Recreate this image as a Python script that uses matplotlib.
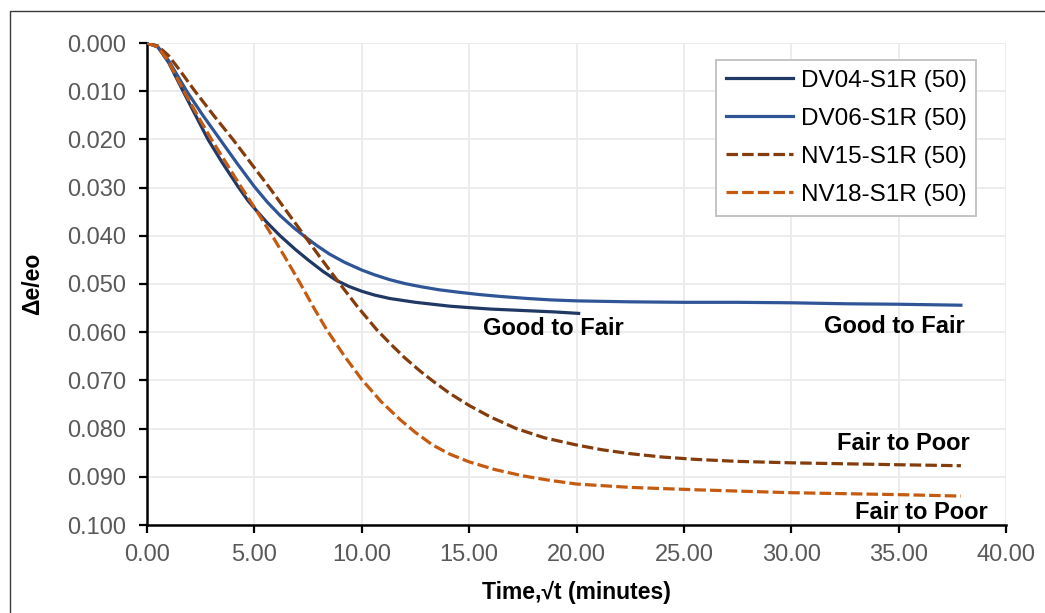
import matplotlib
matplotlib.use("Agg")
import matplotlib.pyplot as plt
from matplotlib.patches import Rectangle
from matplotlib.ticker import FormatStrFormatter, MultipleLocator

plt.rcParams['font.family'] = ['Liberation Sans', 'DejaVu Sans']

# ---------------- data ----------------
dv04_x = [0, 0.5, 1.0, 1.68, 2.84, 3.5, 4.24, 4.7, 5.1, 5.6, 6.2, 6.9, 7.5, 8.2, 8.8, 9.4,
          10.0, 10.6, 11.3, 12.5, 13.3, 14.1, 15.0, 16.0, 17.0, 18.0, 19.0, 20.1]
dv04_y = [0, 0.0008, 0.0040, 0.0100, 0.0200, 0.0248, 0.0298, 0.0327, 0.0348, 0.0373, 0.0400,
          0.0428, 0.0450, 0.0474, 0.0492, 0.0505, 0.0515, 0.0523, 0.0530, 0.0538, 0.0542,
          0.0546, 0.0549, 0.0552, 0.0554, 0.0556, 0.0558, 0.0561]

dv06_x = [0, 0.5, 1.0, 1.85, 2.6, 3.4, 4.2, 5.0, 5.6, 6.2, 6.8, 7.3, 7.9, 8.5, 9.2, 10.0,
          10.6, 11.3, 12.0, 12.8, 13.6, 14.5, 15.5, 16.5, 17.7, 18.8, 20.0, 22.5, 25.0,
          27.5, 30.0, 32.5, 35.0, 37.9]
dv06_y = [0, 0.0008, 0.0036, 0.0100, 0.0150, 0.0200, 0.0250, 0.0298, 0.0330, 0.0358, 0.0382,
          0.0400, 0.0420, 0.0438, 0.0455, 0.0471, 0.0481, 0.0491, 0.0499, 0.0506, 0.0512,
          0.0517, 0.0522, 0.0526, 0.0530, 0.0533, 0.0535, 0.0537, 0.0538, 0.0538, 0.0539,
          0.0541, 0.0542, 0.0544]

nv15_x = [0, 0.5, 1.0, 1.5, 2.2, 3.1, 4.0, 4.85, 5.7, 6.5, 7.3, 8.1, 8.9, 9.8, 10.7, 11.4,
          12.0, 12.7, 13.3, 14.1, 15.0, 16.0, 17.2, 18.5, 20.0, 21.2, 22.5, 24.0, 25.6,
          27.5, 30.0, 32.5, 35.0, 37.9]
nv15_y = [0, 0.0006, 0.0026, 0.0055, 0.0098, 0.0150, 0.0200, 0.0250, 0.0300, 0.0349, 0.0398,
          0.0447, 0.0495, 0.0547, 0.0595, 0.0627, 0.0653, 0.0680, 0.0701, 0.0727, 0.0752,
          0.0776, 0.0800, 0.0819, 0.0834, 0.0844, 0.0852, 0.0859, 0.0864, 0.0868, 0.0871,
          0.0873, 0.0875, 0.0877]

nv18_x = [0, 0.5, 1.0, 1.72, 2.35, 3.0, 3.7, 4.4, 5.1, 5.9, 6.5, 7.15, 7.75, 8.37, 9.2, 10.0,
          10.9, 11.8, 12.5, 13.3, 14.1, 15.0, 16.2, 17.5, 18.7, 20.0, 22.5, 25.6, 30.0,
          35.0, 37.9]
nv18_y = [0, 0.0008, 0.0038, 0.0100, 0.0150, 0.0200, 0.0250, 0.0300, 0.0348, 0.0405, 0.0450,
          0.0500, 0.0548, 0.0595, 0.0650, 0.0698, 0.0744, 0.0782, 0.0808, 0.0834, 0.0853,
          0.0869, 0.0885, 0.0898, 0.0907, 0.0915, 0.0922, 0.0927, 0.0933, 0.0937, 0.0940]

labels = ['DV04-S1R (50)', 'DV06-S1R (50)', 'NV15-S1R (50)', 'NV18-S1R (50)']
colors = ['#203864', '#2F5597', '#843C0C', '#C55A11']

notes = ['Good to Fair', 'Good to Fair', 'Fair to Poor', 'Fair to Poor']
note_x = [18.9, 34.8, 35.2, 36.05]
note_y = [0.0593, 0.0589, 0.0830, 0.0975]

# ---------------- figure ----------------
fig = plt.figure(figsize=(10.45, 6.13), dpi=100)
ax = fig.add_axes([147 / 1045, 1 - 525 / 613, 859 / 1045, 482 / 613])

# thin outer border of the chart area
fig.patches.append(Rectangle((10 / 1045, -0.1), 1.2, 1.1 - 11 / 613, transform=fig.transFigure,
                             fill=False, edgecolor='#3a3a3a', lw=1.0, clip_on=False))

lw = 2.3
dash = (0, (3.6, 1.3))
ax.plot(dv04_x, dv04_y, color=colors[0], lw=lw, label=labels[0], zorder=3)
ax.plot(dv06_x, dv06_y, color=colors[1], lw=lw, label=labels[1], zorder=3)
ax.plot(nv15_x, nv15_y, color=colors[2], lw=lw, ls=dash, label=labels[2], zorder=3)
ax.plot(nv18_x, nv18_y, color=colors[3], lw=lw, ls=dash, label=labels[3], zorder=3)

for t, x, y in zip(notes, note_x, note_y):
    ax.text(x, y, t, fontsize=17, fontweight='bold', ha='center', va='center', color='black')

ax.set_xlim(0, 40)
ax.set_ylim(0.100, 0.0)
ax.xaxis.set_major_locator(MultipleLocator(5))
ax.yaxis.set_major_locator(MultipleLocator(0.01))
ax.xaxis.set_major_formatter(FormatStrFormatter('%.2f'))
ax.yaxis.set_major_formatter(FormatStrFormatter('%.3f'))

ax.grid(True, color='#EBEBEB', lw=1.3, zorder=0)
ax.set_axisbelow(True)
for s in ['top', 'right']:
    ax.spines[s].set_visible(False)
for s in ['left', 'bottom']:
    ax.spines[s].set_color('black')
    ax.spines[s].set_linewidth(1.8)

ax.tick_params(axis='both', direction='out', length=6, width=1.6, color='black',
               labelsize=17, labelcolor='#595959')
ax.tick_params(axis='y', pad=9)
ax.tick_params(axis='x', pad=8)

ax.set_xlabel('Time,\u221at (minutes)', fontsize=16.5, fontweight='bold')
ax.set_ylabel('\u0394e/eo', fontsize=16.5, fontweight='bold')
ax.xaxis.set_label_coords(0.5, -0.115)
ax.yaxis.set_label_coords(-0.12, 0.5)

leg = ax.legend(loc='upper left', bbox_to_anchor=(716 / 1045, 1 - 60 / 613),
                bbox_transform=fig.transFigure, borderaxespad=0, fontsize=17.5,
                handlelength=2.75, handletextpad=0.33, labelspacing=0.66, borderpad=0.4,
                fancybox=False, framealpha=1, edgecolor='#BFBFBF')
leg.get_frame().set_linewidth(1.3)

fig.savefig('out.png', dpi=100)
